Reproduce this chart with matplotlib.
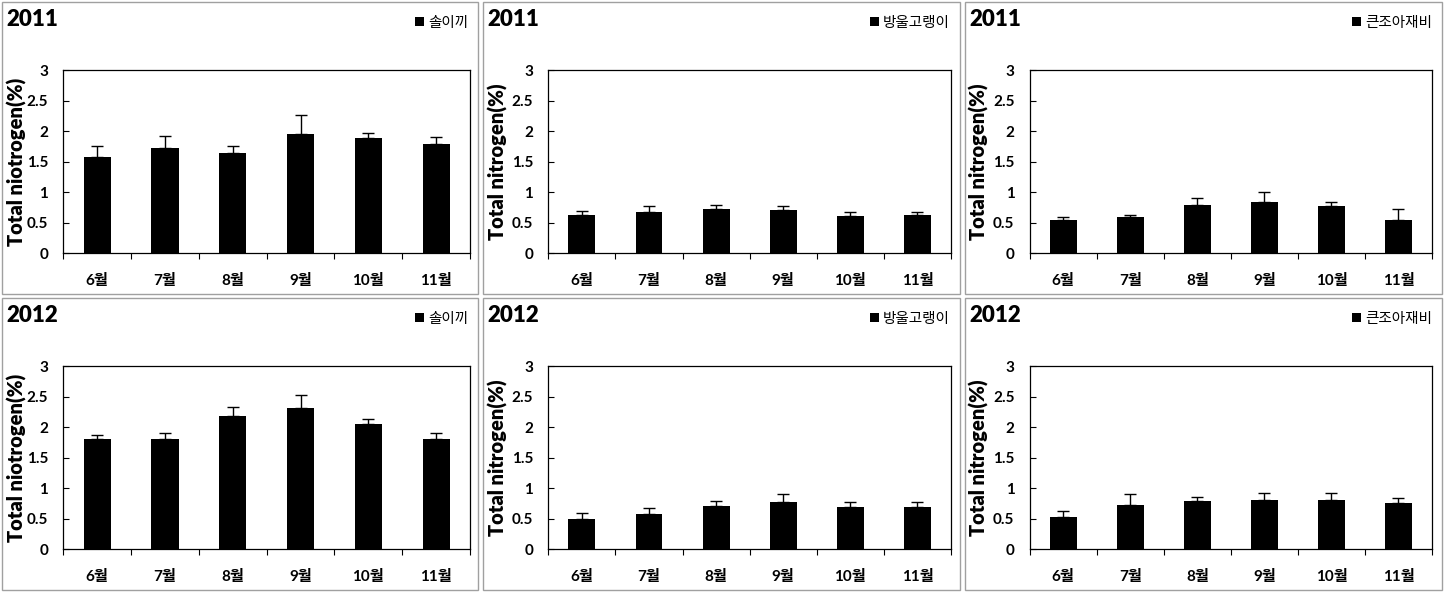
import matplotlib
matplotlib.use('Agg')
import matplotlib.pyplot as plt
from matplotlib.patches import Rectangle
import numpy as np

plt.rcParams['font.family'] = ['Lato', 'Noto Sans CJK KR', 'DejaVu Sans']

# data
months = ['6월', '7월', '8월', '9월', '10월', '11월']
species = ['솔이끼', '방울고랭이', '큰조아재비']
years = ['2011', '2012']
ylabels = ['Total niotrogen(%)', 'Total nitrogen(%)', 'Total nitrogen(%)']

mean_2011_sol = [1.58, 1.73, 1.64, 1.96, 1.89, 1.79]
err_2011_sol = [0.18, 0.20, 0.12, 0.30, 0.09, 0.12]
mean_2011_bang = [0.63, 0.68, 0.73, 0.71, 0.61, 0.63]
err_2011_bang = [0.07, 0.09, 0.06, 0.06, 0.07, 0.05]
mean_2011_keun = [0.55, 0.60, 0.79, 0.84, 0.78, 0.55]
err_2011_keun = [0.04, 0.02, 0.11, 0.16, 0.06, 0.17]

mean_2012_sol = [1.81, 1.81, 2.19, 2.32, 2.05, 1.81]
err_2012_sol = [0.06, 0.10, 0.14, 0.21, 0.08, 0.10]
mean_2012_bang = [0.50, 0.58, 0.71, 0.78, 0.69, 0.69]
err_2012_bang = [0.09, 0.10, 0.09, 0.12, 0.08, 0.08]
mean_2012_keun = [0.53, 0.73, 0.79, 0.81, 0.81, 0.76]
err_2012_keun = [0.09, 0.17, 0.06, 0.11, 0.11, 0.08]

means = [[mean_2011_sol, mean_2011_bang, mean_2011_keun],
         [mean_2012_sol, mean_2012_bang, mean_2012_keun]]
errs = [[err_2011_sol, err_2011_bang, err_2011_keun],
        [err_2012_sol, err_2012_bang, err_2012_keun]]

W, H = 1444, 594
fig = plt.figure(figsize=(W / 100, H / 100), dpi=100)
fig.patch.set_facecolor('white')

# pixel layout (left, right) per column, (top, bottom) per row
frame_x = [(2, 478), (483, 960), (965, 1442)]
frame_y = [(2, 294), (298, 590)]
axes_x = [(63.3, 470), (548.3, 951), (1029.7, 1432)]
axes_y = [(70.3, 253.3), (366.3, 549.3)]
ylab_x = [27, 508, 989]   # right edge of the rotated y label

x = np.arange(len(months))

for r in range(2):
    for c in range(3):
        fx0, fx1 = frame_x[c]
        fy0, fy1 = frame_y[r]
        fig.patches.append(Rectangle((fx0 / W, 1 - fy1 / H), (fx1 - fx0) / W, (fy1 - fy0) / H,
                                     transform=fig.transFigure, fill=False,
                                     edgecolor='#a0a0a0', linewidth=1))

        ax0, ax1 = axes_x[c]
        ay0, ay1 = axes_y[r]
        ax = fig.add_axes([ax0 / W, 1 - ay1 / H, (ax1 - ax0) / W, (ay1 - ay0) / H])

        ax.bar(x, means[r][c], width=0.4, color='black', label=species[c], zorder=2)
        ax.errorbar(x, means[r][c], yerr=[np.zeros(len(x)), errs[r][c]], fmt='none',
                    ecolor='black', elinewidth=1, capsize=4, capthick=1, zorder=3)

        ax.set_xlim(-0.5, 5.5)
        ax.set_ylim(0, 3)
        ax.set_yticks(np.arange(0, 3.01, 0.5))
        ax.set_yticklabels(['0', '0.5', '1', '1.5', '2', '2.5', '3'], fontweight='bold', fontsize=11)
        ax.tick_params(axis='y', direction='in', length=4, pad=11)

        # tick marks between months, labels at bar centres
        ax.set_xticks(np.arange(-0.5, 6, 1))
        ax.set_xticklabels([])
        ax.tick_params(axis='x', which='major', direction='out', length=4)
        ax.set_xticks(x, minor=True)
        ax.set_xticklabels(months, minor=True, fontweight='bold', fontsize=11)
        ax.tick_params(axis='x', which='minor', length=0, pad=15)

        for s in ax.spines.values():
            s.set_linewidth(0.9)

        ax.set_ylabel(ylabels[c], fontweight='heavy', fontsize=14.5)
        ax.yaxis.set_label_coords((ylab_x[c] - ax0) / (ax1 - ax0), 0.5)

        # year label and legend in the panel header
        fig.text((fx0 + 4) / W, 1 - (fy0 + 18) / H, years[r], fontsize=16,
                 fontweight='heavy', ha='left', va='center')
        ax.legend(loc='center right', bbox_to_anchor=((fx1 - 10) / W, 1 - (fy0 + 21) / H),
                  bbox_transform=fig.transFigure, frameon=False, borderpad=0,
                  borderaxespad=0, handlelength=0.6, handleheight=0.6,
                  handletextpad=0.3, prop={'size': 10.5})

fig.savefig('out.png', dpi=100, facecolor='white')
